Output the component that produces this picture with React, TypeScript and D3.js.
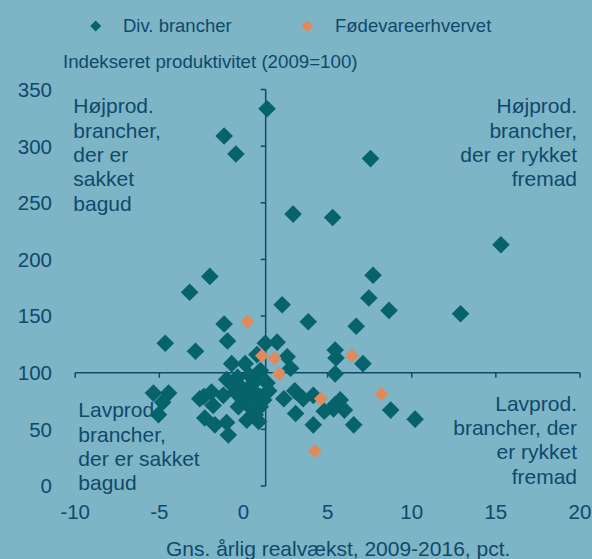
import React from "react";
import * as d3 from "d3";

// Gns. årlig realvækst (x) og indekseret produktivitet (y)
const divX = [
  1.4, -1.15, -0.45, 7.55, 2.95, 5.3, -2.0, 7.7, 7.45, 2.3, -1.15, 3.85, 6.7, -3.2, 15.3, 8.65, 12.9,
  8.75, 10.2, -0.95, -4.65, -2.85, -5.35, -4.45, -4.8, -5.05, 1.3, 2.0, 2.6, 2.8, 0.8, -0.7, 0.1, 1.0,
  -1.0, -0.35, 0.9, 1.4, -2.35, -1.9, -2.6, -1.8, -1.2, -0.5, 0.15, 0.5, 1.0, 1.2, -0.3, 0.5, 1.0, 0.2,
  0.9, -2.3, -1.7, -1.0, -0.9, 2.4, 3.05, 3.1, 3.55, 4.15, 4.15, 4.8, 5.35, 5.75, 6.0, 5.45, 6.55, 5.45,
  5.5, 7.1, 5.45, 0.3, -0.2, 0.7, 0.6, -0.1, -0.6, 1.5, 0.4,
];
const divY = [
  333, 309, 293, 289, 240, 237, 185, 186, 166, 160, 143, 145, 141, 171, 213, 155, 152,
  67, 59, 128, 126, 119, 82, 82, 74, 63, 126, 127, 114, 104, 116, 108, 108, 102,
  94, 96, 99, 91, 79, 83, 77, 71, 80, 83, 82, 85, 79, 76, 70, 68, 70, 58,
  57, 60, 54, 56, 45, 77, 84, 64, 77, 80, 54, 66, 68, 76, 67, 72, 54, 120,
  113, 108, 99, 75, 88, 63, 91, 77, 88, 84, 97,
];
const foodX = [0.25, 1.1, 1.85, 2.1, 6.45, 8.2, 4.6, 4.25];
const foodY = [145, 115, 113, 99, 115, 81, 77, 31];

const xTicks = [-10, -5, 0, 5, 10, 15, 20];
const yTicks = [0, 50, 100, 150, 200, 250, 300, 350];
const crossX = 1.32; // y-aksen krydser ved gennemsnitlig vækst
const crossY = 100;

const seriesNames = ["Div. brancher", "Fødevareerhvervet"];
const quadrants = {
  tl: ["Højprod.", "brancher,", "der er", "sakket", "bagud"],
  tr: ["Højprod.", "brancher,", "der er rykket", "fremad"],
  bl: ["Lavprod.", "brancher,", "der er sakket", "bagud"],
  br: ["Lavprod.", "brancher, der", "er rykket", "fremad"],
};

const W = 592;
const H = 559;
const BG = "#7db4c6";
const TEAL = "#06636b";
const ORANGE = "#e0895b";
const INK = "#0e4a6b";
const FONT = "'Liberation Sans', Arial, sans-serif";

const diamond = (cx: number, cy: number, r: number) =>
  `M${cx},${cy - r}L${cx + r},${cy}L${cx},${cy + r}L${cx - r},${cy}Z`;

export default function App() {
  const x = d3.scaleLinear().domain([-10, 20]).range([75.2, 580]);
  const y = d3.scaleLinear().domain([0, 350]).range([486, 89.5]);

  const div = divX.map((v, i) => ({ x: v, y: divY[i] }));
  const food = foodX.map((v, i) => ({ x: v, y: foodY[i] }));

  const lh = 24.3;

  return (
    <svg
      width={W}
      height={H}
      style={{ position: "absolute", left: 0, top: 0, display: "block" }}
      fontFamily={FONT}
    >
      <rect width={W} height={H} fill={BG} />

      {/* legend */}
      <path d={diamond(95.7, 26, 5.5)} fill={TEAL} />
      <text x={123} y={32} fontSize={18.5} fill={INK}>{seriesNames[0]}</text>
      <path d={diamond(307.3, 26, 6)} fill={ORANGE} />
      <text x={335} y={32} fontSize={18.5} fill={INK}>{seriesNames[1]}</text>

      <text x={63} y={68} fontSize={18.7} fill={INK}>Indekseret produktivitet (2009=100)</text>

      {/* y tick labels */}
      {yTicks.map((t) => (
        <text key={t} x={52} y={y(t)} dy="0.36em" fontSize={20.5} fill={INK} textAnchor="end">{t}</text>
      ))}
      {/* x tick labels */}
      {xTicks.map((t) => (
        <text key={t} x={x(t)} y={519} fontSize={20.5} fill={INK} textAnchor="middle">{t}</text>
      ))}
      <text x={166} y={556} fontSize={21} fill={INK}>Gns. årlig realvækst, 2009-2016, pct.</text>

      {/* quadrant labels */}
      <g fontSize={21} fill={INK}>
        {quadrants.tl.map((s, i) => (
          <text key={"tl" + i} x={73.3} y={113.3 + i * lh}>{s}</text>
        ))}
        {quadrants.tr.map((s, i) => (
          <text key={"tr" + i} x={577} y={113.3 + i * lh} textAnchor="end">{s}</text>
        ))}
        {quadrants.bl.map((s, i) => (
          <text key={"bl" + i} x={78.3} y={417.3 + i * lh}>{s}</text>
        ))}
        {quadrants.br.map((s, i) => (
          <text key={"br" + i} x={577} y={410.7 + i * lh} textAnchor="end">{s}</text>
        ))}
      </g>

      {/* axes */}
      <g stroke={INK} strokeWidth={1.5} fill="none">
        <line x1={x(-10)} x2={x(20)} y1={y(crossY)} y2={y(crossY)} />
        {xTicks.map((t) => (
          <line key={t} x1={x(t)} x2={x(t)} y1={y(crossY)} y2={y(crossY) + 5} />
        ))}
        <line x1={x(crossX)} x2={x(crossX)} y1={y(0)} y2={y(350)} />
        {yTicks.map((t) => (
          <line key={t} x1={x(crossX) - 5} x2={x(crossX)} y1={y(t)} y2={y(t)} />
        ))}
      </g>

      {/* points */}
      {div.map((d, i) => (
        <path key={"d" + i} d={diamond(x(d.x), y(d.y), 8.8)} fill={TEAL} />
      ))}
      {food.map((d, i) => (
        <path key={"f" + i} d={diamond(x(d.x), y(d.y), 7)} fill={ORANGE} />
      ))}
    </svg>
  );
}
